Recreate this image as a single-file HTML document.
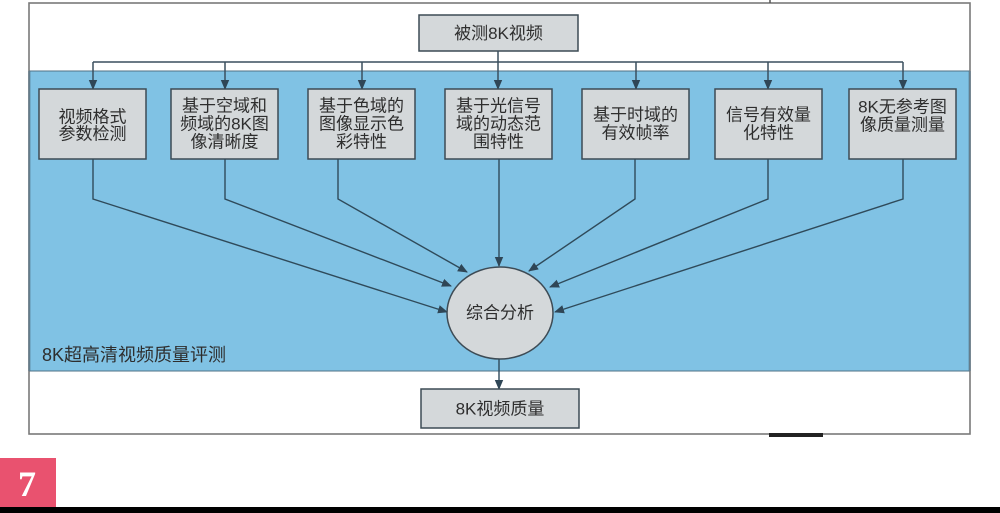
<!DOCTYPE html>
<html><head><meta charset="utf-8"><style>
html,body{margin:0;padding:0;background:#fff;}
body{width:1000px;height:513px;overflow:hidden;position:relative;}
svg{position:absolute;left:0;top:0;}
text{font-family:"Liberation Sans","Noto Sans CJK SC",sans-serif;fill:#2e2e2e;}
</style></head><body>
<svg width="1000" height="513" viewBox="0 0 1000 513" xmlns="http://www.w3.org/2000/svg">
<defs>
<marker id="ah" markerWidth="10" markerHeight="10" refX="9" refY="5" orient="auto" markerUnits="userSpaceOnUse">
<path d="M0,0.8 L10,5 L0,9.2 Z" fill="#2f4656"/>
</marker>
</defs>
<!-- outer frame -->
<rect x="29" y="3" width="941" height="431" fill="#fff" stroke="#7a7a7a" stroke-width="1.6"/>
<line x1="770" y1="0" x2="770" y2="3" stroke="#555" stroke-width="1.5"/>
<rect x="769" y="433" width="54" height="4" fill="#222"/>
<!-- blue region -->
<rect x="29.8" y="71" width="939.4" height="300" fill="#80c2e4" stroke="#4f7186" stroke-width="1"/>
<line x1="29" y1="71" x2="29" y2="371" stroke="#6a7f8c" stroke-width="1.6"/>
<line x1="970" y1="71" x2="970" y2="371" stroke="#6a7f8c" stroke-width="1.6"/>

<!-- top box -->
<rect x="419" y="15" width="159" height="36" fill="#d4d8da" stroke="#3d4b55" stroke-width="1.5"/>
<text x="498.5" y="33.5" font-size="17" text-anchor="middle" dominant-baseline="central">被测8K视频</text>

<!-- distribution lines -->
<g stroke="#3a4f5e" stroke-width="1.5" fill="none">
<line x1="498" y1="51" x2="498" y2="62"/>
<line x1="93" y1="62" x2="903" y2="62"/>
<line x1="93" y1="62" x2="93" y2="89" marker-end="url(#ah)"/>
<line x1="225" y1="62" x2="225" y2="89" marker-end="url(#ah)"/>
<line x1="362" y1="62" x2="362" y2="89" marker-end="url(#ah)"/>
<line x1="498" y1="62" x2="498" y2="89" marker-end="url(#ah)"/>
<line x1="636" y1="62" x2="636" y2="89" marker-end="url(#ah)"/>
<line x1="768" y1="62" x2="768" y2="89" marker-end="url(#ah)"/>
<line x1="903" y1="62" x2="903" y2="89" marker-end="url(#ah)"/>
</g>

<!-- boxes -->
<g fill="#d4d8da" stroke="#3d4b55" stroke-width="1.5">
<rect x="39" y="89" width="107" height="70"/>
<rect x="171" y="89" width="107" height="70"/>
<rect x="308" y="89" width="107" height="70"/>
<rect x="445" y="89" width="107" height="70"/>
<rect x="582" y="89" width="107" height="70"/>
<rect x="715" y="89" width="107" height="70"/>
<rect x="849" y="89" width="107" height="70"/>
</g>
<g font-size="17" text-anchor="middle" dominant-baseline="central">
<text x="92.5" y="117" dominant-baseline="central">视频格式</text>
<text x="92.5" y="134" dominant-baseline="central">参数检测</text>

<text x="224.5" y="106" dominant-baseline="central">基于空域和</text>
<text x="224.5" y="124" dominant-baseline="central">频域的8K图</text>
<text x="224.5" y="142" dominant-baseline="central">像清晰度</text>

<text x="361.5" y="106" dominant-baseline="central">基于色域的</text>
<text x="361.5" y="124" dominant-baseline="central">图像显示色</text>
<text x="361.5" y="142" dominant-baseline="central">彩特性</text>

<text x="498.5" y="106" dominant-baseline="central">基于光信号</text>
<text x="498.5" y="124" dominant-baseline="central">域的动态范</text>
<text x="498.5" y="142" dominant-baseline="central">围特性</text>

<text x="635.5" y="115" dominant-baseline="central">基于时域的</text>
<text x="635.5" y="133" dominant-baseline="central">有效帧率</text>

<text x="768.5" y="115" dominant-baseline="central">信号有效量</text>
<text x="768.5" y="133" dominant-baseline="central">化特性</text>

<text x="902.5" y="107" dominant-baseline="central">8K无参考图</text>
<text x="902.5" y="125" dominant-baseline="central">像质量测量</text>
</g>

<!-- converging lines -->
<g stroke="#2f4a5a" stroke-width="1.4" fill="none">
<polyline points="93,159 93,199 447,312" marker-end="url(#ah)"/>
<polyline points="225,159 225,199 451,286" marker-end="url(#ah)"/>
<polyline points="338,159 338,199 467,272" marker-end="url(#ah)"/>
<polyline points="499,159 499,266" marker-end="url(#ah)"/>
<polyline points="635,159 635,199 529,271" marker-end="url(#ah)"/>
<polyline points="768,159 768,199 550,287" marker-end="url(#ah)"/>
<polyline points="903,159 903,199 555,312" marker-end="url(#ah)"/>
</g>

<!-- ellipse -->
<ellipse cx="500" cy="313" rx="53" ry="46" fill="#d4d8da" stroke="#3d4b55" stroke-width="1.5"/>
<text x="500" y="313" font-size="17" text-anchor="middle" dominant-baseline="central">综合分析</text>

<!-- label -->
<text x="42" y="355" font-size="18" dominant-baseline="central" fill="#2a2a2a">8K超高清视频质量评测</text>

<!-- output -->
<line x1="499" y1="359" x2="499" y2="389" stroke="#2f4a5a" stroke-width="1.4" marker-end="url(#ah)"/>
<rect x="421" y="389" width="158" height="39" fill="#d4d8da" stroke="#3d4b55" stroke-width="1.5"/>
<text x="500" y="409" font-size="17" text-anchor="middle" dominant-baseline="central">8K视频质量</text>

<!-- pink label -->
<rect x="0" y="458" width="56" height="50" fill="#e9526f"/>
<text x="27" y="484" font-size="36" font-weight="bold" text-anchor="middle" dominant-baseline="central" style="font-family:'Liberation Serif',serif;fill:#fff;">7</text>
<rect x="0" y="507" width="1000" height="6" fill="#000"/>
</svg>
</body></html>
